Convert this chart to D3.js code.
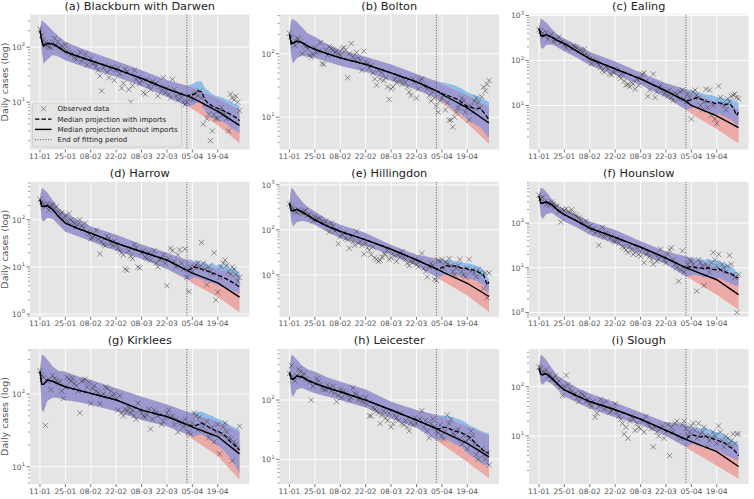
<!DOCTYPE html>
<html><head><meta charset="utf-8">
<script src="https://cdn.jsdelivr.net/npm/d3@7"></script>
<style>body{margin:0;background:#fff;} svg{display:block;font-family:"DejaVu Sans",sans-serif;}</style>
</head><body><svg id="c" width="754" height="499"></svg>
<script>
// ---------------- DATA ----------------
const titles = ["(a) Blackburn with Darwen","(b) Bolton","(c) Ealing","(d) Harrow","(e) Hillingdon","(f) Hounslow","(g) Kirklees","(h) Leicester","(i) Slough"];
const xTickLabels = ["11-01","25-01","08-02","22-02","08-03","22-03","05-04","19-04"];
const xTickDays = [0,14,28,42,56,70,84,98];
const fitEndDay = 81;
const yLimits = [[1.38,393],[3.09,417],[1.05,1050],[0.877,638],[1.17,1166],[0.80,839],[5.78,417],[3.83,727],[1.06,582]];

// days (since 11-01) at which the projections without imports are given
const knotDays = [0,1,2,4,7,10,14,21,28,42,56,70,81,84,98,110];
const medNoImp = [
 [200,130,105,118,115,100,82,68,57,40,27,17.5,13,12,6.8,3.8],
 [200,145,148,158,150,132,118,100,86,68,50,36,26,23,14,8.1],
 [510,360,350,370,330,280,236,160,109,65,39,21,12.5,10,5.9,3.2],
 [265,195,190,200,165,120,85,65,52,32,21,14,8.5,7.4,4.6,2.3],
 [390,270,265,285,250,210,166,120,92,60,37,21.5,13.5,11.8,6.5,3.3],
 [400,280,280,300,260,200,154,110,77,48,29,16.5,10,9,5.4,2.5],
 [203,136,136,156,150,138,126,113,102,83,60,49,38,35,26,15],
 [290,230,223,254,245,215,191,160,138,100,68,46,33,29.5,18.6,11],
 [235,180,175,185,150,115,86,65,50,34,22,13,8.5,7.7,4.8,2.4]];
const hiNoImp = [
 [220,310,290,250,200,160,125,100,82,56,38,25,20,18.5,11.5,7.4],
 [215,340,350,320,260,210,185,140,115,90,68,48,37,33,22,14.5],
 [540,850,800,700,500,380,305,220,155,95,53,31,23,19,12,8.3],
 [290,470,450,380,260,180,138,100,72,48,30,20,14,12.5,9,6.8],
 [410,850,800,600,420,320,255,170,129,85,46,28,23,20,14,7],
 [420,620,600,500,340,260,205,150,109,70,39,23,18,16,10.5,6.5],
 [220,345,340,300,240,210,203,175,156,120,92,72,57,53,42,30],
 [310,575,560,480,380,330,300,240,204,150,94,68,56,52,36,25],
 [250,440,420,350,240,170,136,95,73,48,30,19,17,14,9.5,6]];
const loNoImp = [
 [190,85,50,60,72,68,58,48,40,29,19.5,12.5,8.5,7.5,3.8,1.8],
 [190,90,70,85,95,90,86,75,65,52,38,27,20,17,8,3.8],
 [480,200,180,220,230,200,160,115,78,48,29,15,8,6.5,3,1.45],
 [240,100,92,110,105,80,56,45,35,22,15,9,5.5,4.5,2.3,1.1],
 [370,160,118,150,160,150,129,90,65,44,28,16,9,7.5,3.5,1.5],
 [380,150,123,160,170,140,109,80,55,35,21,12,6.4,5.5,2.5,1.15],
 [190,60,57,80,90,88,83,78,71,58,44,36,28,24,14,6.6],
 [270,130,114,150,160,145,130,115,100,75,49,34,21,18,9,4.8],
 [220,120,110,130,115,90,63,48,36,24,17,10,6,5,2.5,1.35]];

// days at which the projections with imports (after the fitting period) are given
const postDays = [81,83,85,87,89,91,93,95,97,99,101,103,105,107,109,110];
const medImp = [
 [13,13.5,14,16,15.5,11,9.5,8.5,8,7.5,7,6.5,6,5.5,5,4.6],
 [26,25,23,22,21,20,19,17,15.5,14.5,14,13.5,14,12,10,9],
 [12.5,13,14,15,14,13,12,12,11,11.5,11,10.5,11,9,6,7],
 [8.5,9,10,9.5,9,8.5,8,7.5,7,6.5,6,5.5,5,4.5,4,3.8],
 [13.5,14,15,16,15,16,15,14,14,13,13,12,11,10,6,7],
 [10,10.5,10.5,10,10,9.5,10,9.5,9,9.5,8.5,8,7.5,7,6,6],
 [38,37,36,38,40,38,35,33,31,30,28,25,22,20,18,17],
 [33,33,35,34,32,30,29,28,26,24,21,18,16,14,13,13],
 [8.5,10,10.5,10,9.5,10,9.5,9,8.5,8,7.5,7,6,5.5,4.5,4]];
const hiImp = [
 [20,21,22,24,24,18,16,14,13,12.5,12,11,10.5,9.5,9,8.5],
 [37,36,35,34,33,32,30,28,26,24,23,22,21,19,18,17],
 [23,22,21,20,19,18,17,17,16,15,15,14,14,13,12,11.5],
 [14,14.5,13,14,12,13,11,12.5,10.5,11.5,10,11,9,9.5,8,7.8],
 [23,22,22,21,21,20,20,19,18,18,17,16,15,13,9,8],
 [18,17,17,16,16,15,16,15,14,15,13,12,11,10,8,7.5],
 [57,56,56,57,57,55,52,50,47,45,42,40,37,35,33,32],
 [56,55,55,54,53,50,48,45,42,38,35,33,31,29,28,27.5],
 [17,16,15,15,14,15,14,13,12,12,11,10,9,8,7.5,7]];
const loImp = [
 [8.5,8.5,9,10,9.5,7,6,5,4.8,4.6,4.3,4,3.5,3.2,2.9,2.6],
 [20,19,17,16,14,13,12,11,10,9,8,7.5,7,6,5,4.7],
 [8,8.5,9,9,8,7.5,7,6.5,6,6.5,6,5.5,5,4.5,3.5,4],
 [5.5,5.5,6,5.8,5.5,5,4.8,4.5,4.3,4,3.8,3.5,3.3,3,2.8,2.7],
 [9,9,10,10,9.5,10,9.5,9,8.5,8,8,7.5,6.5,6,4,4.5],
 [6.4,6.5,7,6.8,6.5,6,6.5,6,5.5,6,5.5,5,4.5,4.2,3.8,4.2],
 [28,27,26,27,28,26,24,22,20,19,17,15,13,11,9,8.1],
 [21,21,22,21,20,18,17,16,14,12,11,10,9,8,8,8],
 [6,6.5,7,6.5,6,6.5,6,5.5,5,5,4.5,4,3.8,3.5,3.2,3.5]];

// observed daily cases, days 0..110
const observed = [
 [215,165,135,120,105,100,98,120,145,110, 125,100,105,90,110,85,80,72,78,65, 60,70,82,55,62,75,48,58,62,50, 52,45,38,30,16,42,46,35,28,40, 44,25,38,42,33,18,22,40,36,17, 10,20,38,26,28,22,25,15,14,26, 20,17,24,21,22,13,19,16,28,15, 18,14,12,26,17,13,11,14,12,10, 9,10,13,12,11,14,15,13,16,12, 4,9,5,6,2,3,6,5,5,7, 8,6,6,5,3,14,12,11,13,10, 7],
 [210,185,150,135,175,170,155,100,140,130, 120,95,88,100,125,105,110,150,70,68, 115,95,130,120,115,105,110,100,95,120, 125,115,42,100,145,90,80,105,85,80, 55,110,75,70,60,65,50,40,32,55, 40,50,38,42,30,19,28,30,40,35, 45,38,33,40,35,30,25,22,40,35, 20,28,38,40,32,30,28,22,18,25, 20,15,12,18,20,22,13,17,9,9, 7,10,12,14,16,20,18,12,14,9, 15,12,18,20,17,14,21,30,26,33, 38],
 [480,450,400,350,420,300,350,380,260,300, 280,330,250,260,220,190,230,200,180,210, 200,190,160,170,150,180,140,125,110,85, 105,95,90,80,70,60,55,75,65,50, 48,55,65,60,45,40,50,35,28,30, 26,32,30,23,38,28,40,50,53,35, 16,22,30,50,15,20,25,28,22,18, 20,16,22,15,13,19,18,14,20,22, 14,12,18,15,5,20,22,17,15,10, 8,12,23,9,22,6,10,5,4,27, 15,11,10,8,14,12,16,17,18,15, 14],
 [270,240,215,190,220,160,200,210,170,190, 150,130,140,110,120,95,135,100,90,85, 70,80,100,75,65,85,55,50,40,42, 45,60,38,19,35,30,28,45,40,32, 28,35,30,25,22,20,18,9,8.5,22, 17,15,30,25,10,9.5,20,22,16,15, 20,14,18,22,12,10,14,15,18,12, 4,15,25,22,13,10,18,23,12,9, 24,6,3,10,8,10,11,12,10,33, 12,9,4.2,10,8,7,20,2,2.9,6, 10,12,14,11,8,7,10,9,7,5, 6],
 [380,330,300,260,240,280,250,230,260,270, 210,220,190,160,200,170,180,175,150,140, 155,130,90,140,120,95,100,49,70,80, 85,65,60,39,70,55,45,92,50,55, 45,29,50,40,35,28,42,24,22,20, 21,25,30,28,35,22,24,30,26,20, 28,25,33,24,22,18,16,20,19,22, 17,15,20,30,14,12,9,15,18,16, 8,7.5,21,20,22,14,19,18,23,16, 12,10,14,16,22,12,10,9,14,22, 12,13,11,9,13,11,10,5,11,3.1, 11],
 [420,350,380,300,260,280,250,300,270,230, 240,180,105,200,190,210,180,170,200,160, 150,140,130,120,100,90,110,80,85,70, 75,60,65,32,55,80,50,60,55,45, 50,40,38,45,35,42,30,28,25,22, 30,25,20,22,28,20,18,26,13,20, 22,18,15,12,20,14,16,26,18,15, 13,20,25,28,15,12,10,5,9,24, 8,10,12,15,14,12,10,3,15,13, 11,4,12,10,8,13,22,15,11,20, 9,12,10,8,11,19,12,7,6,1.0, 7],
 [210,180,170,37,150,160,115,180,165,155, 140,150,110,87,125,170,160,150,165,140, 130,110,55,150,155,160,125,145,74,120, 130,110,105,74,95,100,125,120,90,110, 95,100,85,60,95,55,50,62,58,65, 55,60,50,45,75,60,55,50,48,52, 62,33,45,60,55,50,52,38,42,48, 55,60,48,50,38,45,30,42,40,35, 45,38,30,28,40,55,50,32,48,40, 35,30,42,25,28,35,22,30,38,15, 28,35,40,30,25,24,12,22,20,18, 36],
 [280,380,250,210,260,330,300,250,280,230, 220,200,100,170,190,230,210,180,160,150, 150,180,160,140,170,130,94,120,150,110, 140,130,120,100,110,160,130,125,100,110, 95,90,110,85,54,54,75,70,65,60, 40,55,65,50,45,60,35,40,55,50, 45,60,40,38,45,35,30,42,38,50, 40,45,48,66,35,45,30,23,40,48, 35,30,28,38,25,22,30,56,40,47, 28,25,30,32,22,18,25,20,15,22, 30,25,18,12,10,14,15,12,10,13, 8],
 [250,240,200,190,220,160,180,140,150,165, 120,130,100,66,100,170,110,90,80,70, 72,60,50,75,70,65,50,55,45,40, 50,24,29,40,55,45,35,50,38,30, 32,35,45,30,25,22,18,11,15,9, 20,25,22,13,18,15,14,20,12,25, 18,16,14,6,15,12,10,14,16,9, 12,17,4,15,12,18,20,10,9,17, 20,14,10,12,16,18,13,9,18,11, 12,15,10,6,8,9,12,10,7,16, 12,8,6,10,9,7,8,11,7,11, 11]];

// ---------------- DRAWING ----------------
const svg = d3.select("#c");
const lefts = [30, 279.5, 529], tops = [14.5, 181.8, 349];
const W = 219.5, H = 135;
const colBlue = "#8FBDEA", colPink = "#EBA9A8", colPurple = "#9C99D0";
const tickCol = "#555555";

titles.forEach((title, i) => {
  const col = i % 3, row = Math.floor(i / 3);
  const g = svg.append("g").attr("transform", `translate(${lefts[col]},${tops[row]})`);
  const x = d3.scaleLinear().domain([-5.5, 115.5]).range([0, W]);
  const y = d3.scaleLog().domain(yLimits[i]).range([H, 0]);

  g.append("rect").attr("width", W).attr("height", H).attr("fill", "#E5E5E5");
  const cid = "clip" + i;
  g.append("clipPath").attr("id", cid).append("rect").attr("width", W).attr("height", H);

  const [y0, y1] = yLimits[i];
  const majors = [], minors = [];
  for (let k = Math.floor(Math.log10(y0)); k <= Math.ceil(Math.log10(y1)); k++) {
    const v = Math.pow(10, k);
    if (v >= y0 && v <= y1) majors.push(k);
    for (let m = 2; m <= 9; m++) { const mv = m * v; if (mv >= y0 && mv <= y1) minors.push(mv); }
  }
  xTickDays.forEach(d => g.append("line").attr("x1", x(d)).attr("x2", x(d)).attr("y1", 0).attr("y2", H)
    .attr("stroke", "#fff").attr("stroke-width", 0.9));
  majors.forEach(k => g.append("line").attr("x1", 0).attr("x2", W).attr("y1", y(Math.pow(10, k))).attr("y2", y(Math.pow(10, k)))
    .attr("stroke", "#fff").attr("stroke-width", 0.9));

  const noImp = knotDays.map((d, j) => ({ d, m: medNoImp[i][j], lo: loNoImp[i][j], hi: hiNoImp[i][j] }));
  const imp = noImp.filter(p => p.d < postDays[0])
    .concat(postDays.map((d, j) => ({ d, m: medImp[i][j], lo: loImp[i][j], hi: hiImp[i][j] })));
  const area = d3.area().x(p => x(p.d)).y0(p => y(p.lo)).y1(p => y(p.hi));
  const line = d3.line().x(p => x(p.d)).y(p => y(p.m));

  const pg = g.append("g").attr("clip-path", `url(#${cid})`);
  pg.append("path").attr("d", area(imp)).attr("fill", colBlue);
  pg.append("path").attr("d", area(noImp)).attr("fill", colPink);
  const iid = "inter" + i;
  pg.append("clipPath").attr("id", iid).append("path").attr("d", area(noImp));
  pg.append("path").attr("d", area(imp)).attr("fill", colPurple).attr("clip-path", `url(#${iid})`);

  const s = 2.6;
  observed[i].forEach((v, d) => {
    const cx = x(d), cy = y(v);
    pg.append("path").attr("d", `M${cx - s},${cy - s}L${cx + s},${cy + s}M${cx - s},${cy + s}L${cx + s},${cy - s}`)
      .attr("stroke", "#3c3c3c").attr("stroke-opacity", 0.6).attr("stroke-width", 0.9).attr("fill", "none");
  });

  pg.append("path").attr("d", line(imp)).attr("fill", "none").attr("stroke", "#000").attr("stroke-width", 1.3)
    .attr("stroke-dasharray", "4.5,2");
  pg.append("path").attr("d", line(noImp)).attr("fill", "none").attr("stroke", "#000").attr("stroke-width", 1.4);
  pg.append("line").attr("x1", x(fitEndDay)).attr("x2", x(fitEndDay)).attr("y1", 0).attr("y2", H)
    .attr("stroke", "#555").attr("stroke-width", 1).attr("stroke-dasharray", "1,1.6");

  xTickDays.forEach((d, j) => {
    g.append("line").attr("x1", x(d)).attr("x2", x(d)).attr("y1", H).attr("y2", H + 3).attr("stroke", tickCol).attr("stroke-width", 0.8);
    g.append("text").attr("x", x(d)).attr("y", H + 9.5).attr("text-anchor", "middle").attr("font-size", 7.5)
      .attr("fill", tickCol).text(xTickLabels[j]);
  });
  majors.forEach(k => {
    const yy = y(Math.pow(10, k));
    g.append("line").attr("x1", -3.5).attr("x2", 0).attr("y1", yy).attr("y2", yy).attr("stroke", tickCol).attr("stroke-width", 0.8);
    const t = g.append("text").attr("x", -5).attr("y", yy + 3).attr("text-anchor", "end").attr("font-size", 7.5).attr("fill", tickCol);
    t.append("tspan").text("10");
    t.append("tspan").attr("dy", -3.8).attr("font-size", 5.3).text(String(k));
  });
  minors.forEach(v => {
    const yy = y(v);
    g.append("line").attr("x1", -2).attr("x2", 0).attr("y1", yy).attr("y2", yy).attr("stroke", tickCol).attr("stroke-width", 0.6);
  });

  g.append("text").attr("x", W / 2).attr("y", -5).attr("text-anchor", "middle").attr("font-size", 11.3)
    .attr("fill", "#222").text(title);
  if (col === 0) {
    g.append("text").attr("transform", `translate(${-22},${H / 2}) rotate(-90)`).attr("text-anchor", "middle")
      .attr("font-size", 9.5).attr("fill", tickCol).text("Daily cases (log)");
  }

  if (i === 0) {
    const lg = g.append("g").attr("transform", "translate(2.5,88.5)");
    lg.append("rect").attr("width", 149).attr("height", 44).attr("rx", 2).attr("fill", "#E5E5E5").attr("fill-opacity", 0.8)
      .attr("stroke", "#cccccc").attr("stroke-width", 0.8);
    const items = [["marker", "Observed data"], ["dash", "Median projection with imports"], ["solid", "Median projection without imports"], ["dot", "End of fitting period"]];
    items.forEach((it, j) => {
      const yy = 5.8 + j * 10.3;
      if (it[0] === "marker") {
        lg.append("path").attr("d", `M${11 - s},${yy - s}L${11 + s},${yy + s}M${11 - s},${yy + s}L${11 + s},${yy - s}`)
          .attr("stroke", "#3c3c3c").attr("stroke-opacity", 0.6).attr("stroke-width", 0.9);
      } else {
        const ln = lg.append("line").attr("x1", 2.5).attr("x2", 19).attr("y1", yy).attr("y2", yy);
        if (it[0] === "dash") ln.attr("stroke", "#000").attr("stroke-width", 1.3).attr("stroke-dasharray", "4.5,2");
        if (it[0] === "solid") ln.attr("stroke", "#000").attr("stroke-width", 1.4);
        if (it[0] === "dot") ln.attr("stroke", "#555").attr("stroke-width", 1).attr("stroke-dasharray", "1,1.6");
      }
      lg.append("text").attr("x", 25).attr("y", yy + 2.5).attr("font-size", 7).attr("fill", "#222").text(it[1]);
    });
  }
});
</script></body></html>
